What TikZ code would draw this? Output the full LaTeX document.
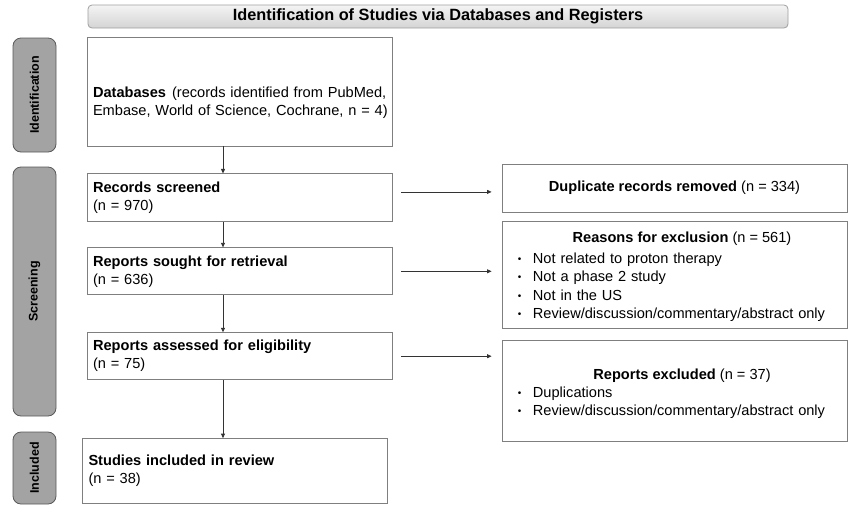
\documentclass[tikz,border=0pt]{standalone}
\usepackage{fontspec}
\setmainfont{Liberation Sans}
\usetikzlibrary{positioning, arrows.meta}

\definecolor{cadre}{HTML}{7F7F7F}
\definecolor{fleche}{HTML}{333333}
\definecolor{etiqfond}{HTML}{A3A3A3}
\definecolor{etiqbord}{HTML}{595959}
\definecolor{bandhaut}{HTML}{F4F4F4}
\definecolor{bandbas}{HTML}{D4D4D4}

\tikzset{
  boite/.style={draw=cadre, line width=0.9pt, text width=297pt, inner xsep=4pt,
    align=left, font=\fontsize{14.6}{18}\selectfont},
  droite/.style={draw=cadre, line width=0.9pt, minimum width=345pt},
  texte/.style={inner sep=0pt, font=\fontsize{14.6}{18.3}\selectfont},
  etiq/.style={draw=etiqbord, fill=etiqfond, rounded corners=8pt, rotate=90,
    minimum height=43pt, font=\bfseries\fontsize{12.5}{14}\selectfont},
  bandeau/.style={draw=gray!75, top color=bandhaut, bottom color=bandbas,
    rounded corners=4pt, minimum width=700pt, minimum height=23pt,
    font=\bfseries\fontsize{16.3}{18}\selectfont}
}
\newcommand{\puce}{\makebox[15pt][l]{\raisebox{1pt}{\fontsize{10}{10}\selectfont\textbullet}}}

\begin{document}
\begin{tikzpicture}[x=1pt, y=-1pt, >={Triangle[length=4.5pt,width=4pt]}, thick]
  \useasboundingbox (0,0) rectangle (849,507);

  % Bandeau et etiquettes des phases
  \node[bandeau] (titre) at (438,16.5) {Identification of Studies via Databases and Registers};
  \node[etiq, minimum width=114pt] (identif) at (34.5,95) {Identification};
  \node[etiq, minimum width=249pt] (screen) at (34.5,291.5) {Screening};
  \node[etiq, minimum width=72pt] (incl) at (34.5,468) {Included};

  % Colonne de gauche
  \node[boite, minimum height=109pt, text height=34pt] (db) at (239.5,91.5)
    {\hspace*{2pt}\textbf{Databases}\hspace{6pt}(records identified from PubMed,\\
     \hspace*{2pt}Embase, World of Science, Cochrane, n = 4)};
  \node[boite, minimum height=48pt, below=27pt of db] (rec)
    {\hspace*{2pt}\textbf{Records screened}\\\hspace*{2pt}(n = 970)};
  \node[boite, minimum height=47pt, below=25pt of rec] (sought)
    {\hspace*{2pt}\textbf{Reports sought for retrieval}\\\hspace*{2pt}(n = 636)};
  \node[boite, minimum height=47pt, below=37pt of sought] (assess)
    {\hspace*{2pt}\textbf{Reports assessed for eligibility}\\\hspace*{2pt}(n = 75)};
  \node[boite, minimum height=65pt, below=58pt of assess, xshift=-4.5pt] (studies)
    {\hspace*{2pt}\textbf{Studies included in review}\\\hspace*{2pt}(n = 38)};

  % Colonne de droite
  \node[droite, minimum height=48pt, font=\fontsize{14.6}{18}\selectfont] (dup) at (674.5,188)
    {\textbf{Duplicate records removed} (n = 334)};
  \node[droite, minimum height=107pt, below=9pt of dup] (reasons) {};
  \node[droite, minimum height=101pt, below=11pt of reasons] (excl) {};

  \node[texte, anchor=base] (reasonsT) at ([xshift=7.5pt, yshift=-21pt]reasons.north)
    {\textbf{Reasons for exclusion} (n = 561)};
  \node[texte, text width=320pt, align=left, anchor=base west] (reasonsL)
    at ([xshift=16pt, yshift=-42pt]reasons.north west)
    {\puce Not related to proton therapy\\
     \puce Not a phase 2 study\\
     \puce Not in the US\\
     \puce Review/discussion/commentary/abstract only};

  \node[texte, anchor=base] (exclT) at ([xshift=7.5pt, yshift=-39pt]excl.north)
    {\textbf{Reports excluded} (n = 37)};
  \node[texte, text width=320pt, align=left, anchor=base west] (exclL)
    at ([xshift=16pt, yshift=-57pt]excl.north west)
    {\puce Duplications\\
     \puce Review/discussion/commentary/abstract only};

  % Fleches verticales
  \coordinate (axe) at (223,0);
  \draw[->, draw=fleche, line width=0.8pt] (db.south -| axe) -- (rec.north -| axe);
  \draw[->, draw=fleche, line width=0.8pt] (rec.south -| axe) -- (sought.north -| axe);
  \draw[->, draw=fleche, line width=0.8pt] (sought.south -| axe) -- (assess.north -| axe);
  \draw[->, draw=fleche, line width=0.8pt] (assess.south -| axe) -- (studies.north -| axe);

  % Fleches horizontales
  \draw[->, draw=fleche, line width=0.8pt, shorten <=9pt, shorten >=10pt]
    ([yshift=6pt]rec.east) -- ([yshift=6pt]rec.east -| dup.west);
  \draw[->, draw=fleche, line width=0.8pt, shorten <=9pt, shorten >=10pt]
    (sought.east) -- (sought.east -| reasons.west);
  \draw[->, draw=fleche, line width=0.8pt, shorten <=9pt, shorten >=10pt]
    (assess.east) -- (assess.east -| excl.west);
\end{tikzpicture}
\end{document}
